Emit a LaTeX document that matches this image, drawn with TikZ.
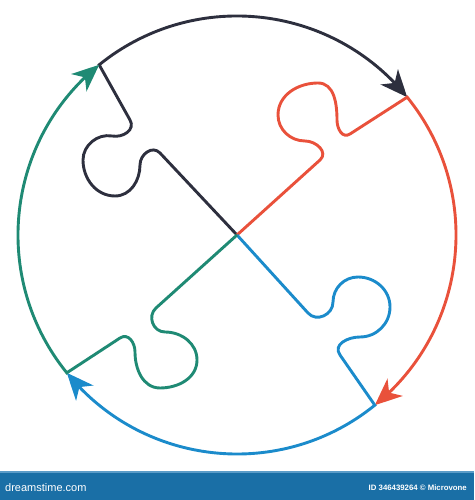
\documentclass[tikz,border=0pt]{standalone}
\usepackage{fontspec}
\newfontfamily\wmfont{Liberation Sans}
\usetikzlibrary{arrows.meta,bending,calc}
\definecolor{pzblack}{HTML}{2D2F3E}
\definecolor{pzred}{HTML}{E9513B}
\definecolor{pzblue}{HTML}{1B8BCB}
\definecolor{pzgreen}{HTML}{1F8A74}
\definecolor{barblue}{HTML}{1A6FA6}
\definecolor{barline}{HTML}{5B9CC8}
\begin{document}
\begin{tikzpicture}[x=1pt,y=1pt,
  piece/.style={line width=2.9pt, line join=miter, line cap=butt,
    -{Stealth[length=27pt,width=23pt,inset=8pt]}},
  neck/.style={looseness=1.2},
  wmtext/.style={text=white, inner sep=0pt, font=\wmfont}
]
\useasboundingbox (0,0) rectangle (474,500);
\coordinate (C) at (237,265);
\coordinate (A) at ($(C)+(129:219pt)$);
\coordinate (B) at ($(C)+(39:219pt)$);
\coordinate (D) at ($(C)+(-51:219pt)$);
\coordinate (E) at ($(C)+(219:219pt)$);
% black
\draw[piece, pzblack] (C) -- (160,347) to[out=133,in=90,neck] (140,335)
  to[out=-90,in=0] (115,304) to[out=180,in=-90] (83,340)
  to[out=90,in=170] (112,364) to[out=-10,in=-60,neck] (130,380) -- (A)
  arc[start angle=129,end angle=39,radius=219pt];
% red
\draw[piece, pzred] (C) -- (320,340) to[out=42,in=0,neck] (305,359)
  to[out=180,in=-90] (278,385) to[out=90,in=180] (318,417)
  to[out=0,in=90] (337,380) to[out=-90,in=213,neck] (350,366) -- (B)
  arc[start angle=39,end angle=-51,radius=219pt];
% blue
\draw[piece, pzblue] (C) -- (308,187) to[out=-48,in=-90,neck] (333,198)
  to[out=90,in=180] (358,223) to[out=0,in=90] (390,193)
  to[out=-90,in=0] (360,163) to[out=180,in=125,neck] (340,145) -- (D)
  arc[start angle=-51,end angle=-141,radius=219pt];
% green
\draw[piece, pzgreen] (C) -- (156,192) to[out=222,in=180,neck] (165,168)
  to[out=0,in=90] (197,140) to[out=-90,in=0] (160,112)
  to[out=180,in=-90] (135,148) to[out=90,in=33,neck] (120,162) -- (E)
  arc[start angle=219,end angle=129,radius=219pt];
% bottom bar
\fill[barblue] (0,0) rectangle (474,27);
\fill[barline] (0,27) rectangle (474,28.5);
\node[wmtext, anchor=west, font=\wmfont\fontsize{11}{11}\selectfont] (wm) at (5,12) {dreamstime.com};
\node[wmtext, anchor=east, font=\wmfont\bfseries\fontsize{7.8}{8}\selectfont] (id) at (467,12) {ID 346439264 © Microvone};
\end{tikzpicture}
\end{document}
